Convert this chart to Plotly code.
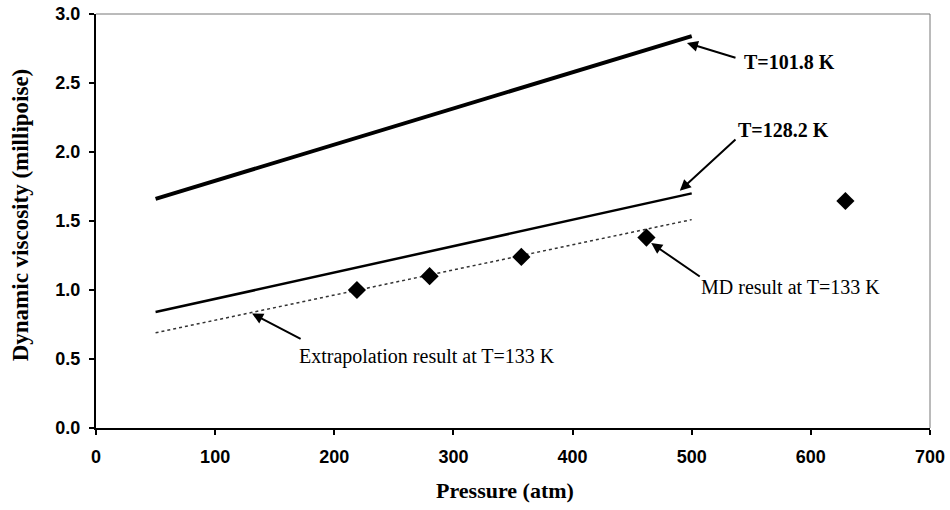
import plotly.graph_objects as go

# Pressure (atm) endpoints for the fitted curves
pressure_fit = [50, 500]
visc_101_8K = [1.66, 2.84]
visc_128_2K = [0.84, 1.70]
visc_extrap_133K = [0.69, 1.51]

# Molecular dynamics results at T = 133 K
md_pressure = [219, 280, 357, 462, 629]
md_viscosity = [1.00, 1.10, 1.24, 1.38, 1.645]

x_ticks = [0, 100, 200, 300, 400, 500, 600, 700]
y_ticks = [0.0, 0.5, 1.0, 1.5, 2.0, 2.5, 3.0]

fig = go.Figure()
fig.add_trace(go.Scatter(x=pressure_fit, y=visc_101_8K, mode="lines",
                         line=dict(color="black", width=4), showlegend=False))
fig.add_trace(go.Scatter(x=pressure_fit, y=visc_128_2K, mode="lines",
                         line=dict(color="black", width=2.5), showlegend=False))
fig.add_trace(go.Scatter(x=pressure_fit, y=visc_extrap_133K, mode="lines",
                         line=dict(color="#333333", width=1.5, dash="dot"), showlegend=False))
fig.add_trace(go.Scatter(x=md_pressure, y=md_viscosity, mode="markers",
                         marker=dict(symbol="diamond", size=14, color="black"),
                         showlegend=False))

serif = "Liberation Serif, Times New Roman, serif"
sans = "Liberation Sans, Arial, sans-serif"

# Arrows: (head_x, head_y, tail_x, tail_y)
arrows = [
    (496, 2.79, 538, 2.68),
    (490, 1.72, 538, 2.10),
    (466, 1.34, 508, 1.09),
    (131, 0.83, 173, 0.64),
]
annotations = []
for hx, hy, tx, ty in arrows:
    annotations.append(dict(x=hx, y=hy, ax=tx, ay=ty, xref="x", yref="y",
                            axref="x", ayref="y", text="", showarrow=True,
                            arrowhead=2, arrowsize=1.1, arrowwidth=2,
                            arrowcolor="black"))

labels = [
    (542, 2.65, "<b>T=101.8 K</b>"),
    (537, 2.16, "<b>T=128.2 K</b>"),
    (506, 1.02, "MD result at T=133 K"),
    (169, 0.52, "Extrapolation result at T=133 K"),
]
for lx, ly, txt in labels:
    annotations.append(dict(x=lx, y=ly, xref="x", yref="y", text=txt,
                            showarrow=False, xanchor="left", yanchor="middle",
                            font=dict(family=serif, size=20, color="black")))

# Axis titles
annotations.append(dict(x=0.49, y=-0.15, xref="paper", yref="paper",
                        text="<b>Pressure (atm)</b>", showarrow=False,
                        xanchor="center", yanchor="middle",
                        font=dict(family=serif, size=22, color="black")))
annotations.append(dict(x=-0.091, y=0.514, xref="paper", yref="paper",
                        text="<b>Dynamic viscosity (millipoise)</b>", showarrow=False,
                        textangle=-90, xanchor="center", yanchor="middle",
                        font=dict(family=serif, size=23, color="black")))

fig.update_layout(
    width=950, height=510,
    margin=dict(l=96, r=20, t=14, b=82),
    paper_bgcolor="white", plot_bgcolor="white",
    annotations=annotations,
    shapes=[
        dict(type="line", xref="paper", yref="paper", x0=0, x1=1, y0=1, y1=1,
             line=dict(color="#777777", width=1)),
        dict(type="line", xref="paper", yref="paper", x0=1, x1=1, y0=0, y1=1,
             line=dict(color="#777777", width=1)),
    ],
)
fig.update_xaxes(
    range=[0, 700], tickvals=x_ticks, ticktext=[str(v) for v in x_ticks],
    automargin=False,
    showgrid=False, zeroline=False, showline=True, linecolor="black", linewidth=2,
    ticks="outside", ticklen=5, tickwidth=1.5, tickcolor="black",
    ticklabelstandoff=6,
    tickfont=dict(family=sans, size=18, color="black", weight="bold"),
)
fig.update_yaxes(
    range=[0, 3.0], tickvals=y_ticks, ticktext=[f"{v:.1f}" for v in y_ticks],
    automargin=False,
    showgrid=False, zeroline=False, showline=True, linecolor="black", linewidth=2,
    ticks="outside", ticklen=5, tickwidth=1.5, tickcolor="black",
    ticklabelstandoff=5,
    tickfont=dict(family=sans, size=18, color="black", weight="bold"),
)

fig.write_html("out.html")
